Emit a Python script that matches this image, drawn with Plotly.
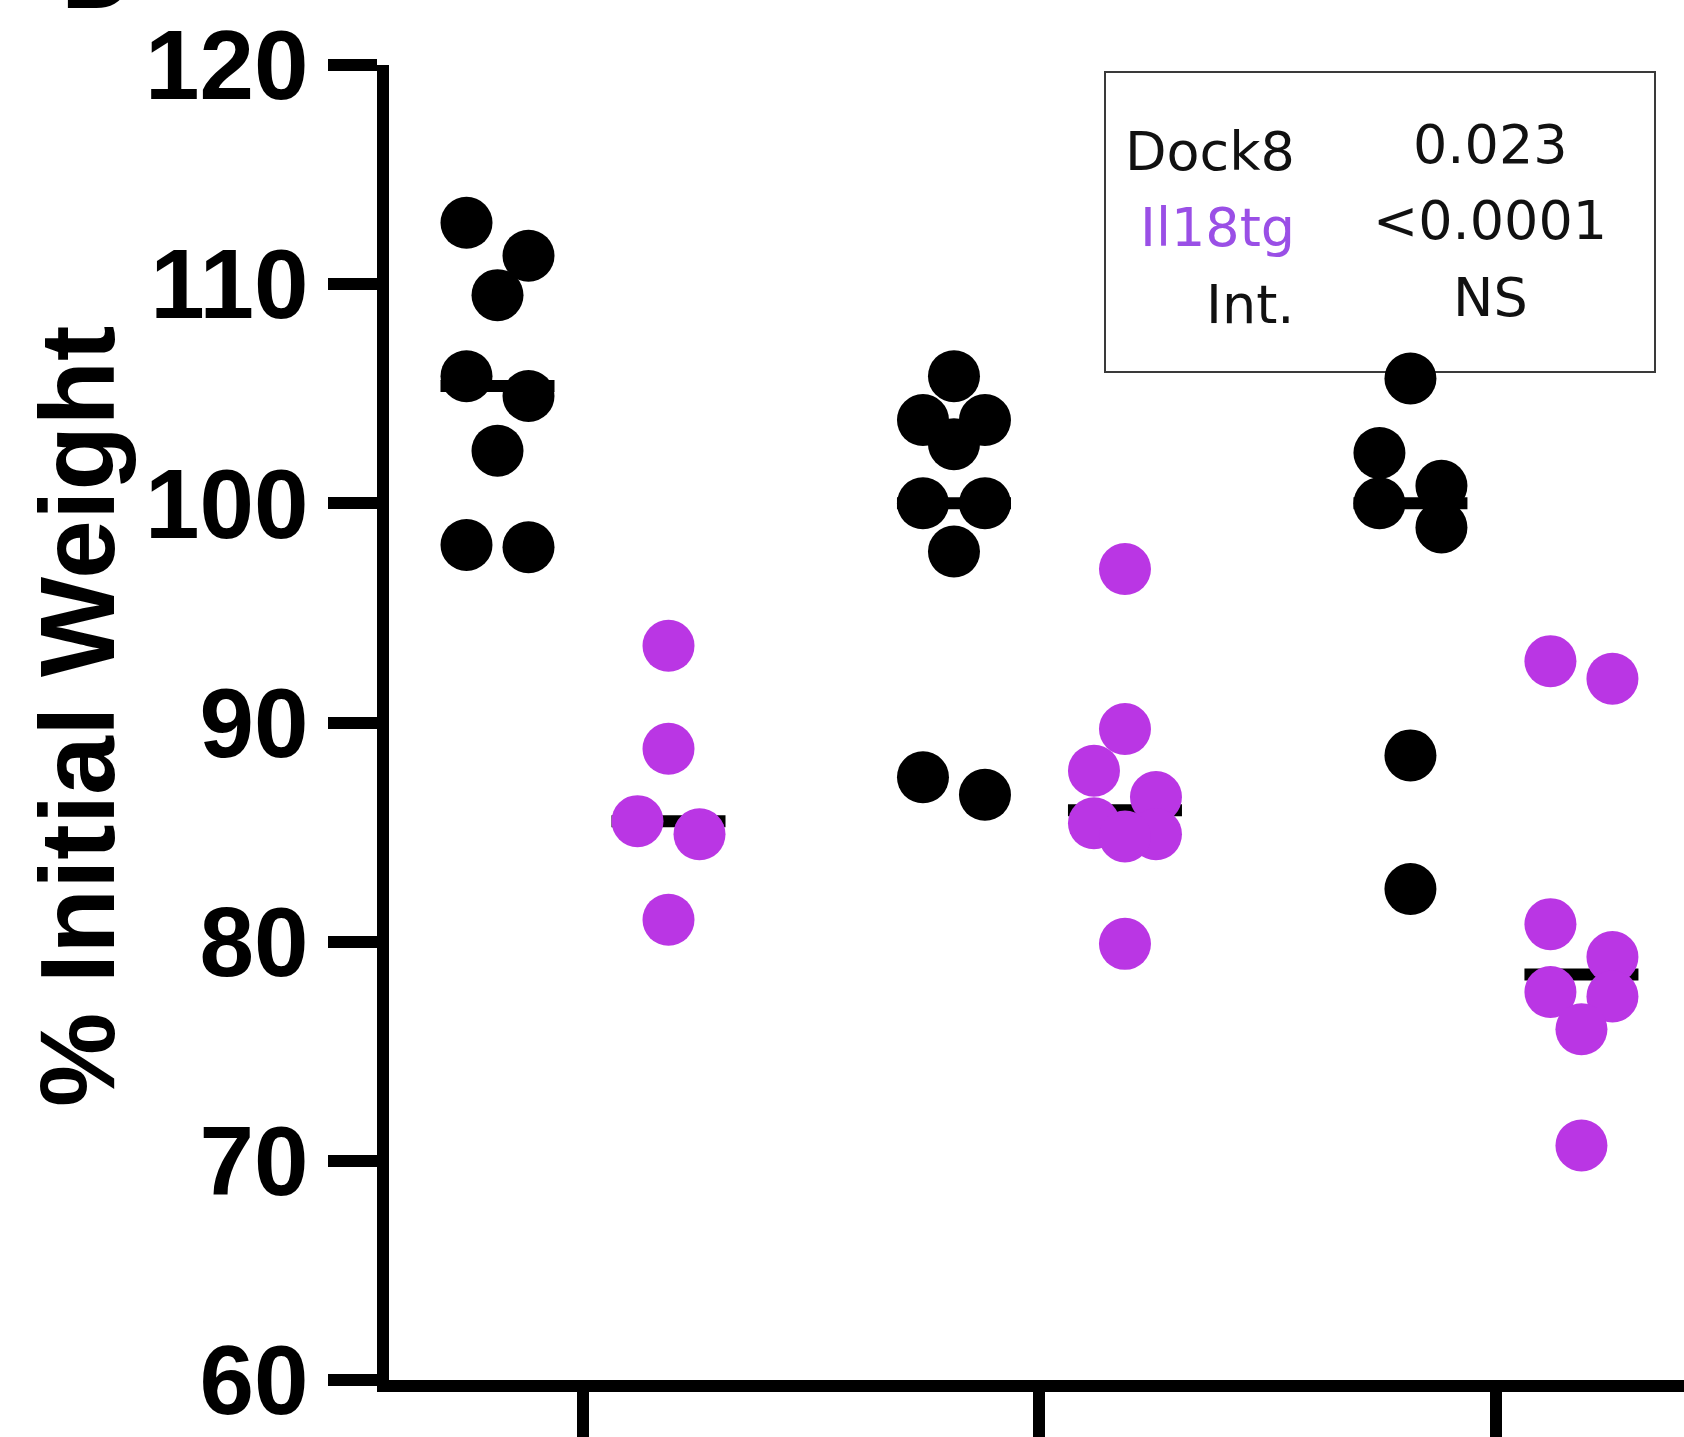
import numpy as np
import plotly.graph_objects as go

# ---------------- data ----------------
categories = [0, 1, 2]                      # x positions of the three category ticks
y_ticks = [60, 70, 80, 90, 100, 110, 120]
y_title = "% Initial Weight"
series_names = ["Dock8", "Il18tg"]

dock8_values = [
    [112.8, 111.3, 109.5, 105.8, 104.9, 102.4, 98.1, 98.0],
    [105.8, 103.8, 103.8, 102.7, 100.0, 100.0, 97.8, 87.5, 86.7],
    [105.7, 102.3, 100.8, 100.0, 98.9, 88.5, 82.4],
]
il18tg_values = [
    [93.5, 88.8, 85.5, 84.9, 81.0],
    [97.0, 89.7, 87.8, 86.6, 85.4, 84.9, 84.8, 79.9],
    [92.8, 92.0, 80.8, 79.3, 77.7, 77.5, 76.0, 70.7],
]
stat_labels = ["Dock8", "Il18tg", "Int."]
stat_values = ["0.023", "<0.0001", "NS"]

# ---------------- layout constants ----------------
W_FIG, H_FIG = 1684, 1437
M_L, M_R, M_T, M_B = 389, 0, 65, 57
PW = W_FIG - M_L - M_R
PH = H_FIG - M_T - M_B
X_RANGE = [-0.425, 2.412]
Y_RANGE = [60, 120]
PX_X = PW / (X_RANGE[1] - X_RANGE[0])
PX_Y = PH / (Y_RANGE[1] - Y_RANGE[0])

MARKER_D = 52            # px
STEP_PX = 31             # horizontal step between neighbours in a row
GROUP_SHIFT_PX = 85.5    # offset of each series from the category tick
MEDIAN_HALF_PX = 57

BLACK = "#000000"
PURPLE = "#BA36E4"
PURPLE_TXT = "#9A4FE6"


def swarm_offsets(vals):
    """Prism-like row arrangement: close values share a row, spread symmetrically."""
    v = np.asarray(vals, dtype=float)
    order = np.argsort(v, kind="stable")
    row_h = 0.72 * MARKER_D / PX_Y
    offs = np.zeros(len(v))
    rows, cur = [], []
    for i in order:
        if cur and v[i] - v[cur[0]] >= row_h:
            rows.append(cur)
            cur = []
        cur.append(i)
    if cur:
        rows.append(cur)
    for row in rows:
        n = len(row)
        slots = [0] if n % 2 == 1 else []
        k = 1
        while len(slots) < n:
            slots += [k, -k]
            k += 1
        for idx, s in zip(row, slots[:n]):
            offs[idx] = s * STEP_PX / PX_X
    return offs


fig = go.Figure()

# median bars (drawn first so the dots sit on top)
for vals_list, sign in ((dock8_values, -1), (il18tg_values, 1)):
    for cat, vals in zip(categories, vals_list):
        cx = cat + sign * GROUP_SHIFT_PX / PX_X
        med = float(np.median(vals))
        hw = MEDIAN_HALF_PX / PX_X
        fig.add_trace(go.Scatter(
            x=[cx - hw, cx + hw], y=[med, med], mode="lines",
            line=dict(color=BLACK, width=12), hoverinfo="skip", showlegend=False))

for name, vals_list, sign, color in ((series_names[0], dock8_values, -1, BLACK),
                                      (series_names[1], il18tg_values, 1, PURPLE)):
    xs, ys = [], []
    for cat, vals in zip(categories, vals_list):
        cx = cat + sign * GROUP_SHIFT_PX / PX_X
        offs = swarm_offsets(vals)
        xs += list(cx + offs)
        ys += list(vals)
    fig.add_trace(go.Scatter(
        x=xs, y=ys, mode="markers", name=name,
        marker=dict(size=MARKER_D, color=color, line=dict(width=0)),
        showlegend=False))


def px_x(px):
    return (px - M_L) / PW


def px_y(py):
    return (M_T + PH - py) / PH


annotations = []
# y-axis title
annotations.append(dict(
    text=y_title, textangle=-90, xref="paper", yref="paper",
    x=px_x(77), y=px_y(717), xanchor="center", yanchor="middle", showarrow=False,
    font=dict(family="Liberation Sans, Arial", size=106, color="black", weight="bold")))
# panel letter (cut off at the top, as in the source figure)
annotations.append(dict(
    text="D", xref="paper", yref="paper", x=px_x(59), y=px_y(-28),
    xanchor="left", yanchor="middle", showarrow=False,
    font=dict(family="Liberation Sans, Arial", size=103, color="black", weight="bold")))

# statistics box
label_centers = [151.8, 227.8, 304.4]
value_centers = [144.4, 220.4, 297.8]
label_colors = ["#111111", PURPLE_TXT, "#111111"]
for lab, val, yc_l, yc_v, col in zip(stat_labels, stat_values, label_centers, value_centers, label_colors):
    annotations.append(dict(
        text=lab, xref="paper", yref="paper", x=px_x(1297), y=px_y(yc_l),
        xanchor="right", yanchor="middle", showarrow=False,
        font=dict(family="DejaVu Sans", size=54, color=col)))
    annotations.append(dict(
        text=val, xref="paper", yref="paper", x=px_x(1490), y=px_y(yc_v),
        xanchor="center", yanchor="middle", showarrow=False,
        font=dict(family="DejaVu Sans", size=54, color="#111111")))

shapes = [dict(
    type="rect", xref="paper", yref="paper",
    x0=px_x(1105), x1=px_x(1655), y0=px_y(372), y1=px_y(72),
    line=dict(color="#3a3a3a", width=2), fillcolor="rgba(0,0,0,0)", layer="below")]

fig.update_layout(
    width=W_FIG, height=H_FIG,
    margin=dict(l=M_L, r=M_R, t=M_T, b=M_B, autoexpand=False),
    paper_bgcolor="white", plot_bgcolor="white",
    showlegend=False,
    annotations=annotations, shapes=shapes,
    xaxis=dict(
        range=X_RANGE, tickvals=categories, showticklabels=False,
        showline=True, linewidth=12, linecolor="black",
        ticks="outside", ticklen=60, tickwidth=12, tickcolor="black",
        showgrid=False, zeroline=False, fixedrange=True),
    yaxis=dict(
        range=Y_RANGE, tickvals=y_ticks,
        showline=True, linewidth=12, linecolor="black",
        ticks="outside", ticklen=49, tickwidth=12, tickcolor="black",
        tickfont=dict(family="Liberation Sans, Arial", size=98, color="black", weight="bold"),
        showgrid=False, zeroline=False, fixedrange=True),
)

fig.write_html(
    "out.html",
    config={"displayModeBar": False},
    post_script="document.body.style.margin='0';document.body.style.overflow='hidden';",
)
